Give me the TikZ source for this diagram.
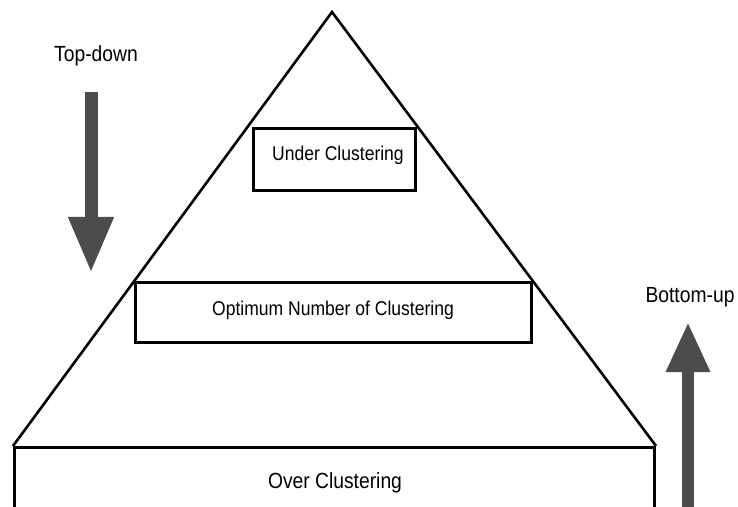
\documentclass[tikz,border=0pt]{standalone}
\usepackage{fontspec}
\usepackage{tikz}
\usetikzlibrary{arrows.meta}
\newfontfamily\lblfont[FakeStretch=0.88]{Liberation Sans}

\begin{document}
\begin{tikzpicture}[x=1bp,y=-1bp,
  box/.style={draw, line width=3bp, inner sep=0pt},
  lbl/.style={font=\lblfont\fontsize{22}{26}\selectfont, inner sep=0pt, anchor=base},
  smalllbl/.style={font=\lblfont\fontsize{20}{24}\selectfont, inner sep=0pt},
  bigarrow/.style={draw=black!70, line width=13bp, -{Triangle[length=56bp,width=42bp]}}]
\useasboundingbox (0,0) rectangle (738,507);
% pyramid
\coordinate (apex) at (332,12);
\coordinate (lbase) at (13,446);
\coordinate (rbase) at (656,446);
\draw[line width=2.6bp, line join=miter] (lbase) -- (apex) -- (rbase);
% levels
\node[box, minimum width=162, minimum height=62](under) at (334.5,159.5){};
\node[smalllbl](undertxt) at (338,155){Under Clustering};
\node[box, minimum width=397, minimum height=61](optimum) at (333.5,312.5){};
\node[smalllbl](optimumtxt) at (333,310){Optimum Number of Clustering};
\node[box, minimum width=643, minimum height=70, anchor=north](over) at (334.5,446){};
\node[lbl](overtxt) at (335,488){Over Clustering};
% directions
\node[lbl](topdown) at (96,62){Top-down};
\coordinate (tdstart) at (91,92);
\coordinate (tdtip) at (91,273);
\draw[bigarrow] (tdstart) -- (tdtip);
\node[lbl](bottomup) at (690,302){Bottom-up};
\coordinate (bustart) at (688,515);
\coordinate (butip) at (688,322);
\draw[bigarrow, line width=12bp, -{Triangle[length=50bp,width=41bp]}] (bustart) -- (butip);
\end{tikzpicture}
\end{document}
